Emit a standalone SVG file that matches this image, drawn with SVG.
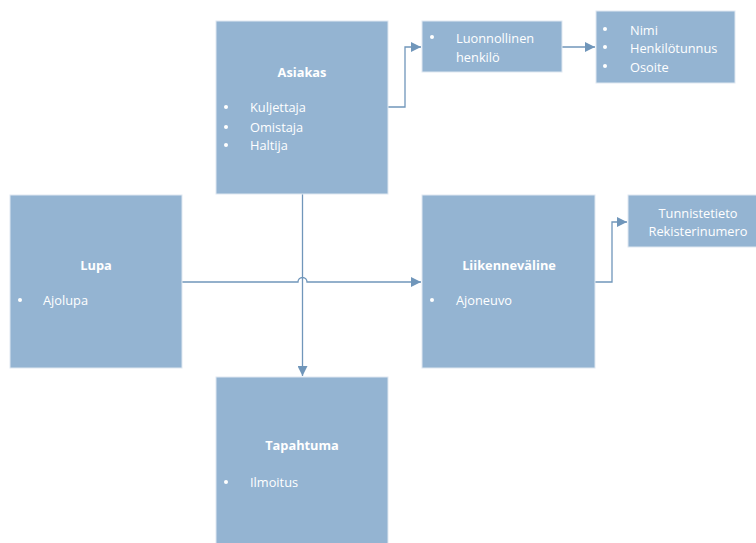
<svg xmlns="http://www.w3.org/2000/svg" width="756" height="543" viewBox="0 0 756 543">
<style>
.box{fill:#94b4d2;stroke:#dfe8f1;stroke-width:1}
.t{font-family:"Open Sans","Liberation Sans",sans-serif;font-size:12.8px;fill:#ffffff}
.b{font-weight:bold;text-anchor:middle}
.c{text-anchor:middle}
.ln{fill:none;stroke:#7096ba;stroke-width:1.3}
</style>
<defs>
<marker id="ah" viewBox="0 0 10 10" refX="10" refY="5" markerWidth="10" markerHeight="10" markerUnits="userSpaceOnUse" orient="auto">
<path d="M0,0 L10,5 L0,10 z" fill="#7096ba"/>
</marker>
</defs>
<rect width="756" height="543" fill="#ffffff"/>
<g id="connectors">
<polyline class="ln" points="388,107 405,107 405,47 421,47" marker-end="url(#ah)"/>
<line class="ln" x1="562" y1="47" x2="595" y2="47" marker-end="url(#ah)"/>
<polyline class="ln" points="595,282 612,282 612,222 627,222" marker-end="url(#ah)"/>
<line class="ln" x1="302.5" y1="194" x2="302.5" y2="376" marker-end="url(#ah)"/>
<path class="ln" d="M182,282 H298 A4.5,4.5 0 0 1 307,282 H421" marker-end="url(#ah)"/>
</g>
<g id="asiakas">
<rect class="box" x="216" y="21" width="172" height="173"/>
<text class="t b" x="302" y="77">Asiakas</text>
<circle cx="226" cy="107" r="2" fill="#fff"/>
<circle cx="226" cy="127" r="2" fill="#fff"/>
<circle cx="226" cy="145" r="2" fill="#fff"/>
<text class="t" x="250" y="112">Kuljettaja</text>
<text class="t" x="250" y="132">Omistaja</text>
<text class="t" x="250" y="150">Haltija</text>
</g>
<g id="luonnollinen">
<rect class="box" x="422" y="21" width="140" height="51"/>
<circle cx="432" cy="37" r="2" fill="#fff"/>
<text class="t" x="456" y="43">Luonnollinen</text>
<text class="t" x="456" y="62">henkilö</text>
</g>
<g id="nimi">
<rect class="box" x="596" y="11" width="139" height="72"/>
<circle cx="605" cy="29" r="2" fill="#fff"/>
<circle cx="605" cy="47" r="2" fill="#fff"/>
<circle cx="605" cy="66" r="2" fill="#fff"/>
<text class="t" x="630" y="35">Nimi</text>
<text class="t" x="630" y="53">Henkilötunnus</text>
<text class="t" x="630" y="72">Osoite</text>
</g>
<g id="lupa">
<rect class="box" x="10" y="195" width="172" height="173"/>
<text class="t b" x="96" y="270">Lupa</text>
<circle cx="20" cy="300" r="2" fill="#fff"/>
<text class="t" x="43" y="305">Ajolupa</text>
</g>
<g id="liikennevaline">
<rect class="box" x="422" y="195" width="173" height="173"/>
<text class="t b" x="509" y="270">Liikenneväline</text>
<circle cx="432" cy="300" r="2" fill="#fff"/>
<text class="t" x="456" y="305">Ajoneuvo</text>
</g>
<g id="tunnistetieto">
<rect class="box" x="628" y="195" width="130" height="52"/>
<text class="t c" x="698" y="218">Tunnistetieto</text>
<text class="t c" x="698" y="236">Rekisterinumero</text>
</g>
<g id="tapahtuma">
<rect class="box" x="216" y="377" width="172" height="170"/>
<text class="t b" x="302" y="450">Tapahtuma</text>
<circle cx="226" cy="482" r="2" fill="#fff"/>
<text class="t" x="250" y="487">Ilmoitus</text>
</g>
</svg>
